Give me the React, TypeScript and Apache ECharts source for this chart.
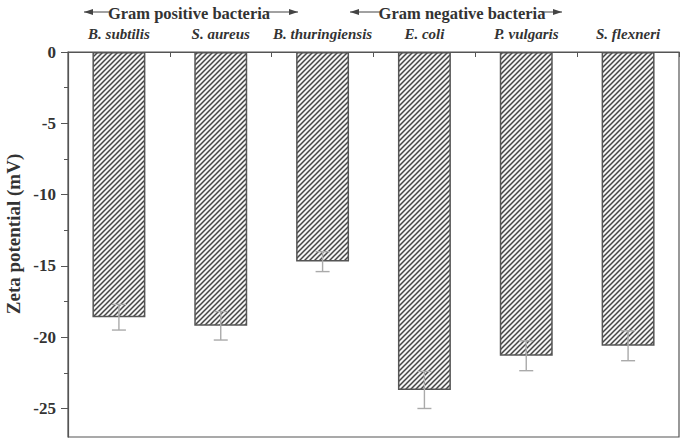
import React, { useEffect, useRef } from "react";
import * as echarts from "echarts";

const categories = ["B. subtilis", "S. aureus", "B. thuringiensis", "E. coli", "P. vulgaris", "S. flexneri"];
const zetaValues = [-18.6, -19.2, -14.7, -23.7, -21.3, -20.6];
const zetaErrors = [0.9, 1.0, 0.7, 1.3, 1.05, 1.05];
const majorTicks = [0, -5, -10, -15, -20, -25];
const minorTicks = [-2.5, -7.5, -12.5, -17.5, -22.5];
const groupTitles = ["Gram positive bacteria", "Gram negative bacteria"];
const yTitle = "Zeta potential (mV)";

function makeHatch(): string {
  const c = document.createElement("canvas");
  const s = 5;
  c.width = s;
  c.height = s;
  const ctx = c.getContext("2d")!;
  ctx.fillStyle = "#f4f4f4";
  ctx.fillRect(0, 0, s, s);
  ctx.strokeStyle = "#444";
  ctx.lineWidth = 1.5;
  ctx.beginPath();
  ctx.moveTo(-1, s + 1);
  ctx.lineTo(s + 1, -1);
  ctx.moveTo(-1, 1);
  ctx.lineTo(1, -1);
  ctx.moveTo(s - 1, s + 1);
  ctx.lineTo(s + 1, s - 1);
  ctx.stroke();
  return c.toDataURL();
}

const FONT = "Liberation Serif";

function arrow(x1: number, x2: number, y: number, headAt: "left" | "right") {
  const hx = headAt === "left" ? x1 : x2;
  const dir = headAt === "left" ? 1 : -1;
  return [
    { type: "line", shape: { x1, y1: y, x2, y2: y }, style: { stroke: "#444", lineWidth: 1 } },
    {
      type: "polygon",
      shape: { points: [[hx, y], [hx + dir * 9, y - 3], [hx + dir * 9, y + 3]] },
      style: { fill: "#444" },
    },
  ];
}

export default function App() {
  const ref = useRef<HTMLDivElement>(null);
  useEffect(() => {
    if (!ref.current) return;
    const chart = echarts.init(ref.current, null, { renderer: "svg" });
    const hatch = makeHatch();
    const axisColor = "#555";
    chart.setOption({
      animation: false,
      grid: { left: 68, right: 7, top: 52, bottom: 6, show: true, borderColor: axisColor, borderWidth: 1.2, backgroundColor: "transparent" },
      xAxis: {
        type: "category",
        data: categories,
        position: "top",
        axisLine: { show: true, lineStyle: { color: axisColor, width: 1.2 } },
        axisTick: { show: true, inside: true, length: 5, lineStyle: { color: axisColor } },
        axisLabel: { interval: 0, fontFamily: FONT, fontStyle: "italic", fontWeight: "bold", fontSize: 15, color: "#333", margin: 11 },
        splitLine: { show: false },
      },
      yAxis: [
        {
          type: "value",
          min: -27,
          max: 0,
          axisLine: { show: true, lineStyle: { color: axisColor, width: 1.2 } },
          axisTick: { show: true, inside: false, length: 7, customValues: majorTicks, lineStyle: { color: axisColor } },
          axisLabel: { customValues: majorTicks, fontFamily: FONT, fontWeight: "bold", fontSize: 17, color: "#333", margin: 12 },
          splitLine: { show: false },
        },
        {
          type: "value",
          min: -27,
          max: 0,
          position: "left",
          axisLine: { show: false },
          axisTick: { show: true, inside: false, length: 4, customValues: minorTicks, lineStyle: { color: axisColor } },
          axisLabel: { show: false },
          splitLine: { show: false },
        },
      ],
      series: [
        {
          type: "bar",
          data: zetaValues,
          barWidth: "52%",
          itemStyle: {
            color: { image: hatch, repeat: "repeat", imageWidth: 5, imageHeight: 5 } as any,
            borderColor: "#555",
            borderWidth: 1.5,
          },
        },
        {
          type: "custom",
          data: zetaValues.map((v, i) => [i, v, zetaErrors[i]]),
          z: 5,
          renderItem: (params: any, api: any) => {
            const x = api.value(0);
            const v = api.value(1);
            const e = api.value(2);
            const top = api.coord([x, v + e]);
            const bot = api.coord([x, v - e]);
            const hw = 7;
            const st = { stroke: "#aaa", lineWidth: 1.4 };
            return {
              type: "group",
              children: [
                { type: "line", shape: { x1: top[0], y1: top[1], x2: bot[0], y2: bot[1] }, style: st },
                { type: "line", shape: { x1: top[0] - hw, y1: top[1], x2: top[0] + hw, y2: top[1] }, style: st },
                { type: "line", shape: { x1: bot[0] - hw, y1: bot[1], x2: bot[0] + hw, y2: bot[1] }, style: st },
              ],
            };
          },
        },
      ],
      graphic: [
        ...arrow(84, 111, 12, "left"),
        ...arrow(266, 298, 12, "right"),
        { type: "text", x: 189, y: 13, style: { text: groupTitles[0], fontFamily: FONT, fontWeight: "bold", fontSize: 16.5, fill: "#333", align: "center", verticalAlign: "middle" } },
        ...arrow(350, 381, 12, "left"),
        ...arrow(541, 562, 12, "right"),
        { type: "text", x: 462, y: 13, style: { text: groupTitles[1], fontFamily: FONT, fontWeight: "bold", fontSize: 16.5, fill: "#333", align: "center", verticalAlign: "middle" } },
        { type: "text", x: 13, y: 234, rotation: Math.PI / 2, style: { text: yTitle, fontFamily: FONT, fontWeight: "bold", fontSize: 19, fill: "#333", align: "center", verticalAlign: "middle" } },
      ],
    });
    return () => chart.dispose();
  }, []);
  return <div ref={ref} style={{ width: 686, height: 443, position: "absolute", left: 0, top: 0 }} />;
}
